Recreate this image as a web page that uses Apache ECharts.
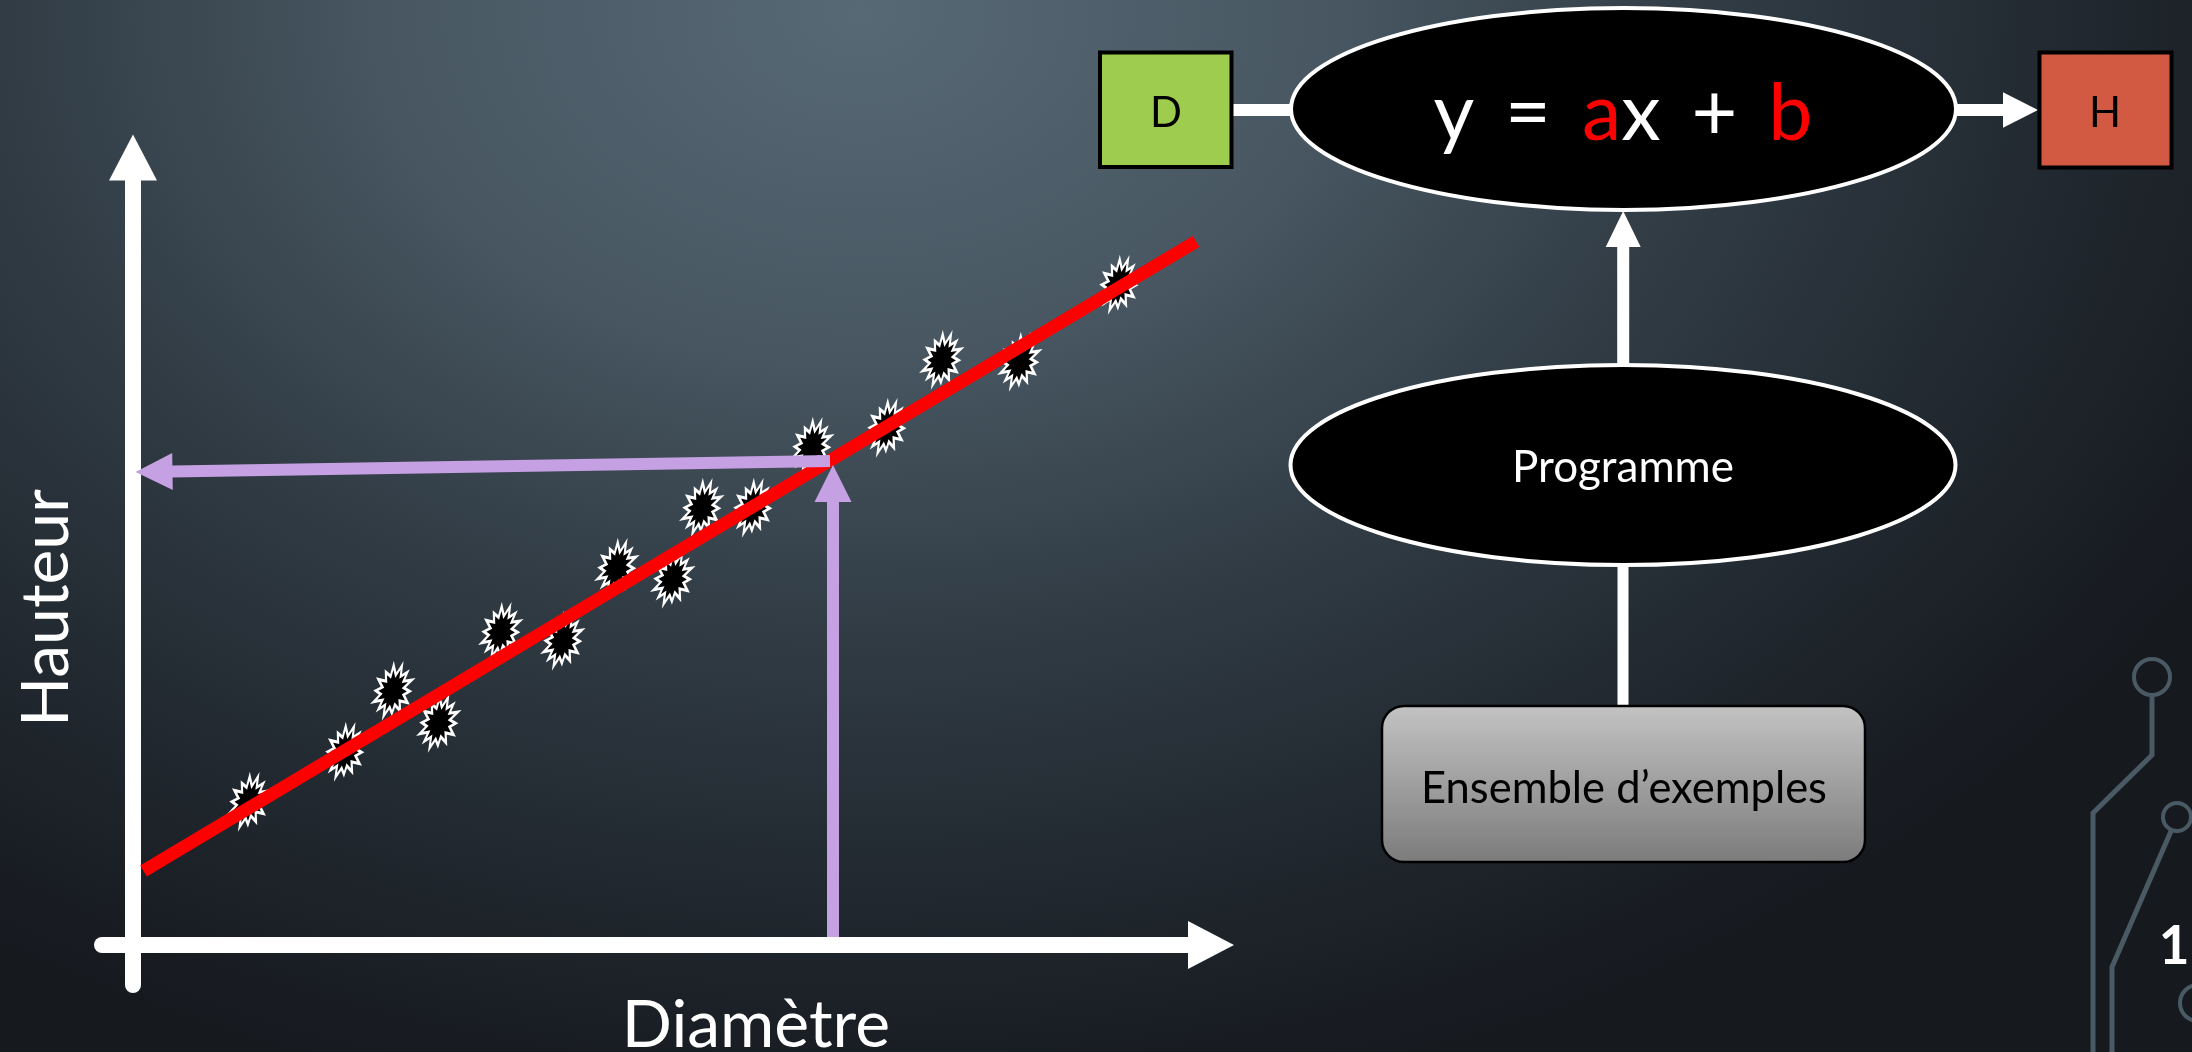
<!DOCTYPE html>
<html><head><meta charset="utf-8">
<script src="https://cdn.jsdelivr.net/npm/echarts@6/dist/echarts.min.js"></script>
<style>html,body{margin:0;padding:0;background:#1b1f24;overflow:hidden}#c{width:2192px;height:1052px;}</style>
</head><body><div id="c"></div>
<script>
// ---- data ----
const diametre = [11.6, 21.2, 26.0, 30.6, 36.8, 43.0, 48.4, 54.0, 56.9, 62.0, 67.9, 75.4, 80.9, 88.7, 98.6];
const hauteur  = [14.3, 19.3, 25.4, 22.2, 31.3, 30.4, 37.7, 36.6, 43.7, 43.7, 49.8, 51.7, 58.5, 58.3, 66.0];
const fitX = [1.05, 106.3];
const fitY = [7.4, 70.35];
// guide arrows: [fromX, fromY, toX, toY]
const guideUp   = [70.0, 0.8, 70.0, 48.0];
const guideLeft = [69.7, 48.4, 0.25, 47.3];
const xRange = [-3.1, 107.8];
const yRange = [-4, 78.75];
const axisNames = ['Diamètre', 'Hauteur'];
const diagramTexts = {input: 'D', output: 'H', model: 'Programme', examples: 'Ensemble d\u2019exemples'};
const slideNumber = '1';

// ---- burst symbol (style) ----
const burstR = [1,.62,.93,.6,1,.57,.9,.63,1,.6,.95,.58,.88,.62,1,.6,.92,.57,1,.62,.9,.6,.97,.58,.9,.61,1,.6];
let burstPath = 'path://';
burstR.forEach((r, i) => {
  const a = i / burstR.length * Math.PI * 2;
  const x = 50 + 50 * r * Math.sin(a), y = 50 - 50 * r * Math.cos(a);
  burstPath += (i ? 'L' : 'M') + x.toFixed(2) + ',' + y.toFixed(2);
});
burstPath += 'Z';

const chart = echarts.init(document.getElementById('c'), null, {renderer: 'canvas'});
const FONT = 'Lato, "Open Sans", sans-serif';
const PURPLE = '#c5a0e2';
const CIRC = '#4a5a65';

function arrowItem(params, api) {
  const p1 = api.coord([api.value(0), api.value(1)]);
  const p2 = api.coord([api.value(2), api.value(3)]);
  const dx = p2[0] - p1[0], dy = p2[1] - p1[1], len = Math.hypot(dx, dy);
  const ux = dx / len, uy = dy / len, L = 37, W = 18.5;
  const bx = p2[0] - ux * L, by = p2[1] - uy * L;
  return {type: 'group', children: [
    {type: 'line', shape: {x1: p1[0], y1: p1[1], x2: bx + ux, y2: by + uy}, style: {stroke: PURPLE, lineWidth: 12}},
    {type: 'polygon', shape: {points: [[p2[0], p2[1]], [bx - uy * W, by + ux * W], [bx + uy * W, by - ux * W]]}, style: {fill: PURPLE}}
  ]};
}

const bg = {
  type: 'rect', z: -100, silent: true, scaleY: 0.72,
  shape: {x: 0, y: 0, width: 2192, height: 1052 / 0.72},
  style: {fill: {type: 'radial', x: 860, y: 20, r: 1550, global: true, colorStops: [
    {offset: 0, color: '#576975'}, {offset: 0.3, color: '#485762'}, {offset: 0.55, color: '#313c45'},
    {offset: 0.8, color: '#20272e'}, {offset: 1, color: '#16191e'}]}}
};

const graphics = [
  bg,
  // axis titles
  {type: 'text', z: 10, x: 47, y: 608, rotation: Math.PI / 2, style: {text: axisNames[1], font: '66px ' + FONT, fill: '#fff', textAlign: 'center', textVerticalAlign: 'middle'}},
  {type: 'text', z: 10, style: {text: axisNames[0], x: 756, y: 1026, font: '66px ' + FONT, fill: '#fff', textAlign: 'center', textVerticalAlign: 'middle'}},
  // connectors
  {type: 'rect', z: 10, shape: {x: 1230, y: 104, width: 62, height: 12}, style: {fill: '#fff'}},
  {type: 'rect', z: 10, shape: {x: 1955, y: 104, width: 50, height: 12}, style: {fill: '#fff'}},
  {type: 'polygon', z: 10, shape: {points: [[2038, 110], [2003, 92.3], [2003, 127.7]]}, style: {fill: '#fff'}},
  {type: 'rect', z: 10, shape: {x: 1617.2, y: 245, width: 12, height: 120}, style: {fill: '#fff'}},
  {type: 'polygon', z: 10, shape: {points: [[1623.2, 211], [1605.7, 247], [1640.7, 247]]}, style: {fill: '#fff'}},
  {type: 'rect', z: 10, shape: {x: 1617.5, y: 565, width: 11, height: 142}, style: {fill: '#fff'}},
  // boxes
  {type: 'rect', z: 11, shape: {x: 1100, y: 52.5, width: 131.5, height: 114.5}, style: {fill: '#9dcc4e', stroke: '#000', lineWidth: 4}},
  {type: 'text', z: 12, style: {text: diagramTexts.input, x: 1166, y: 113, font: '42px ' + FONT, fill: '#000', textAlign: 'center', textVerticalAlign: 'middle'}},
  {type: 'rect', z: 11, shape: {x: 2039.5, y: 52.5, width: 132, height: 115}, style: {fill: '#d35a42', stroke: '#000', lineWidth: 4}},
  {type: 'text', z: 12, style: {text: diagramTexts.output, x: 2105, y: 113, font: '42px ' + FONT, fill: '#000', textAlign: 'center', textVerticalAlign: 'middle'}},
  // ellipse 1
  {type: 'ellipse', z: 11, shape: {cx: 1623.5, cy: 109, rx: 332.5, ry: 101}, style: {fill: '#000', stroke: '#fff', lineWidth: 4}},
  {type: 'text', z: 12, style: {
    text: '{w|y}{g| }{w|=}{g| }{r|a}{w|x}{g| }{w|+}{g| }{r|b}', x: 1623, y: 115, textAlign: 'center', textVerticalAlign: 'middle',
    rich: {
      w: {fill: '#fff', fontSize: 79, fontFamily: FONT},
      r: {fill: '#ff0000', fontSize: 79, fontFamily: FONT},
      g: {fill: '#fff', fontSize: 79, fontFamily: FONT, width: 31}
    }}},
  // ellipse 2
  {type: 'ellipse', z: 11, shape: {cx: 1623, cy: 465, rx: 332.5, ry: 100}, style: {fill: '#000', stroke: '#fff', lineWidth: 4}},
  {type: 'text', z: 12, style: {text: diagramTexts.model, x: 1623, y: 468, font: '44px ' + FONT, fill: '#fff', textAlign: 'center', textVerticalAlign: 'middle'}},
  // examples box
  {type: 'rect', z: 11, shape: {x: 1382, y: 706, width: 483, height: 156, r: 22},
    style: {fill: {type: 'linear', x: 0, y: 0, x2: 0, y2: 1, colorStops: [{offset: 0, color: '#c3c3c3'}, {offset: 1, color: '#7b7b7b'}]}, stroke: '#000', lineWidth: 2.5}},
  {type: 'text', z: 12, style: {text: diagramTexts.examples, x: 1624, y: 789, font: '43.5px ' + FONT, fill: '#000', textAlign: 'center', textVerticalAlign: 'middle'}},
  // circuit decoration
  {type: 'circle', z: 5, shape: {cx: 2152, cy: 677, r: 18}, style: {fill: 'none', stroke: CIRC, lineWidth: 4}},
  {type: 'polyline', z: 5, shape: {points: [[2152, 695], [2152, 755], [2093, 813], [2093, 1060]]}, style: {stroke: CIRC, lineWidth: 5, fill: 'none'}},
  {type: 'circle', z: 5, shape: {cx: 2177, cy: 817, r: 14}, style: {fill: 'none', stroke: CIRC, lineWidth: 4}},
  {type: 'polyline', z: 5, shape: {points: [[2171.5, 830], [2112, 967], [2112, 1060]]}, style: {stroke: CIRC, lineWidth: 5, fill: 'none'}},
  {type: 'circle', z: 5, shape: {cx: 2198, cy: 1003, r: 18}, style: {fill: 'none', stroke: CIRC, lineWidth: 4}},
  {type: 'text', z: 12, style: {text: slideNumber, x: 2174, y: 947, font: 'bold 53px ' + FONT, fill: '#fff', textAlign: 'center', textVerticalAlign: 'middle'}}
];

const axisCommon = {
  type: 'value', splitLine: {show: false}, axisTick: {show: false}, axisLabel: {show: false},
  axisLine: {show: true, onZero: true, symbol: ['none', 'triangle'], symbolSize: [48, 46], lineStyle: {color: '#fff', width: 16}}
};

chart.setOption({
  animation: false,
  backgroundColor: '#1b1f24',
  grid: {left: 102, top: 157.5, width: 1109, height: 827.5, containLabel: false},
  xAxis: Object.assign({}, axisCommon, {min: xRange[0], max: xRange[1]}),
  yAxis: Object.assign({}, axisCommon, {min: yRange[0], max: yRange[1]}),
  graphic: graphics,
  series: [
    {type: 'scatter', z: 2, data: diametre.map((d, i) => [d, hauteur[i]]), symbol: burstPath, symbolSize: [35, 54], symbolRotate: -20,
      itemStyle: {color: '#000', borderColor: '#fff', borderWidth: 2.5, opacity: 1}},
    {type: 'line', z: 3, data: fitX.map((x, i) => [x, fitY[i]]), symbol: 'none', lineStyle: {color: '#ff0000', width: 13, cap: 'butt'}},
    {type: 'custom', z: 4, renderItem: arrowItem, data: [guideUp, guideLeft]}
  ]
});
</script></body></html>
